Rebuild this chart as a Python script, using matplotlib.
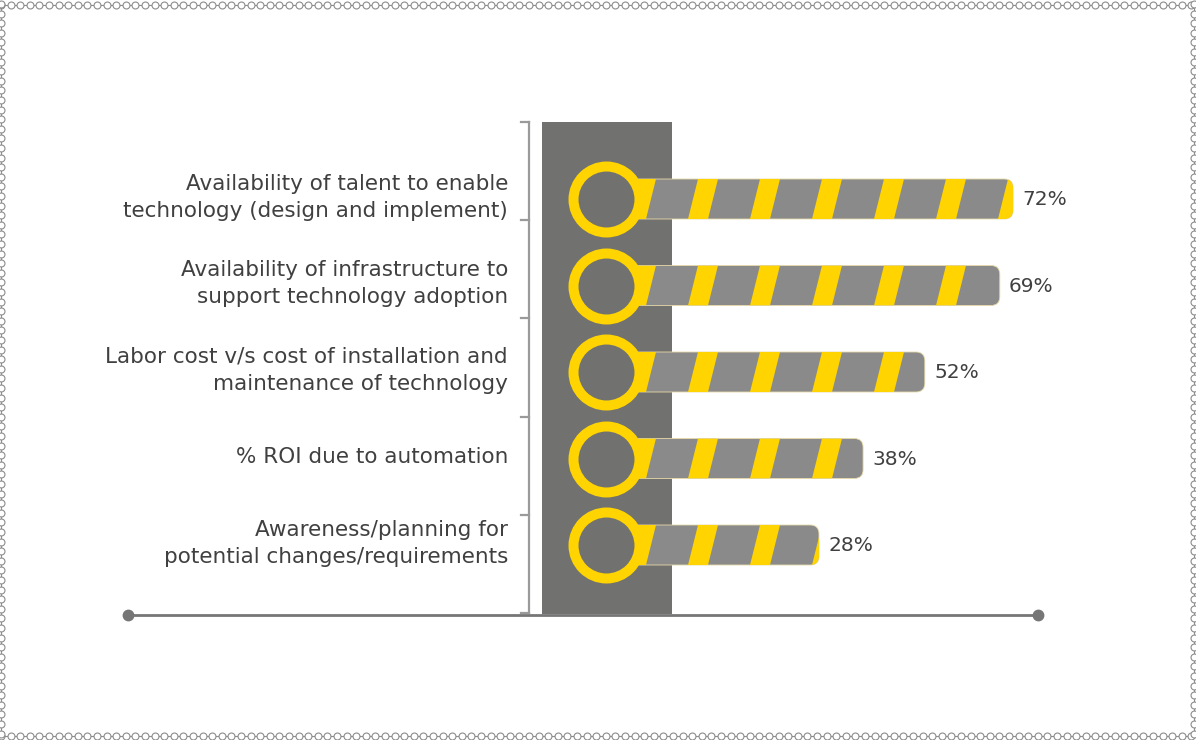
import numpy as np
import matplotlib
matplotlib.use('Agg')
import matplotlib.pyplot as plt
from matplotlib.patches import FancyBboxPatch, Rectangle, Polygon

plt.rcParams['font.family'] = ['DejaVu Sans']

# ---- data ----
categories = [
    'Availability of talent to enable\ntechnology (design and implement)',
    'Availability of infrastructure to\nsupport technology adoption',
    'Labor cost v/s cost of installation and\nmaintenance of technology',
    '% ROI due to automation',
    'Awareness/planning for\npotential changes/requirements',
]
values = [72, 69, 52, 38, 28]
value_labels = ['72%', '69%', '52%', '38%', '28%']

YELLOW = '#FFD400'
BAR_GRAY = '#8A8A8A'
COL_GRAY = '#717170'
TEXT = '#404040'

W, H = 1196, 740
fig = plt.figure(figsize=(W / 100, H / 100), dpi=100)

# ---- decoration layer (pixel coords) ----
deco = fig.add_axes([0, 0, 1, 1])
deco.set_xlim(0, W)
deco.set_ylim(H, 0)
deco.axis('off')

# chain border
bc = dict(color='#8c8c8c', lw=0.8, marker='o', ms=5, mfc='white', mec='#8c8c8c', mew=0.8)
xs = np.arange(1, W, 9.6)
ys = np.arange(4, H, 9.6)
deco.plot(xs, np.full_like(xs, 4.5), **bc)
deco.plot(xs, np.full_like(xs, 735.5), **bc)
deco.plot(np.full_like(ys, 1.0), ys, **bc)
deco.plot(np.full_like(ys, 1193.5), ys, **bc)

# dark column behind the rings
deco.add_patch(Rectangle((542, 122), 130, 492, color=COL_GRAY, lw=0, zorder=2))

# bracket on the left
deco.plot([529, 529], [122, 613], color='#9a9a9a', lw=1.6, zorder=2)
for ty in np.linspace(122, 613, 6):
    deco.plot([521, 529], [ty, ty], color='#9a9a9a', lw=1.6, zorder=2)

# baseline with end dots
deco.plot([128, 1038], [615, 615], color='#767676', lw=2, zorder=3)
deco.plot([128, 1038], [615, 615], 'o', color='#767676', ms=7.5, zorder=3)

# ---- data layer: x = percent, y = row index ----
PX = 4.41          # pixels per percent
X0 = 695.5         # pixel of 0 %
ROW0, ROWSTEP = 199, 86.5

ax = fig.add_axes([0, 0, 1, 1])
ax.set_xlim(-X0 / PX, (W - X0) / PX)
ax.set_ylim((H - ROW0) / ROWSTEP, -ROW0 / ROWSTEP)
ax.axis('off')
ax.patch.set_alpha(0)

bar_h = 40 / ROWSTEP
bar_start = -20
ring_x = (606 - X0) / PX
asp = PX / ROWSTEP
period, sw, slant = 62 / PX, 20 / PX, 10 / PX
first = (636 - X0) / PX

for i, (cat, v, lab) in enumerate(zip(categories, values, value_labels)):
    top, bot = i - bar_h / 2, i + bar_h / 2
    bar = FancyBboxPatch((bar_start, top), v - bar_start, bar_h,
                         boxstyle='round,pad=0,rounding_size=2.0',
                         mutation_aspect=asp, fc=BAR_GRAY, ec='#e6d9a8', lw=0.6, zorder=3)
    ax.add_patch(bar)
    for a in np.arange(first - period, v + period, period):
        st = Polygon([(a, top), (a + sw, top), (a + sw - slant, bot), (a - slant, bot)],
                     closed=True, fc=YELLOW, ec='none', zorder=4)
        ax.add_patch(st)
        st.set_clip_path(bar)
    ax.text(v + 2.1, i + 0.01, lab, ha='left', va='center', fontsize=14.5, color=TEXT, zorder=6)
    ax.text((508 - X0) / PX, i - 0.02, cat, ha='right', va='center', fontsize=15.5,
            color=TEXT, linespacing=1.42, zorder=6)

ax.scatter([ring_x] * len(values), range(len(values)), s=47.5 ** 2,
           facecolor=COL_GRAY, edgecolor=YELLOW, linewidth=7.2, zorder=5)

fig.savefig('out.png', dpi=100)
